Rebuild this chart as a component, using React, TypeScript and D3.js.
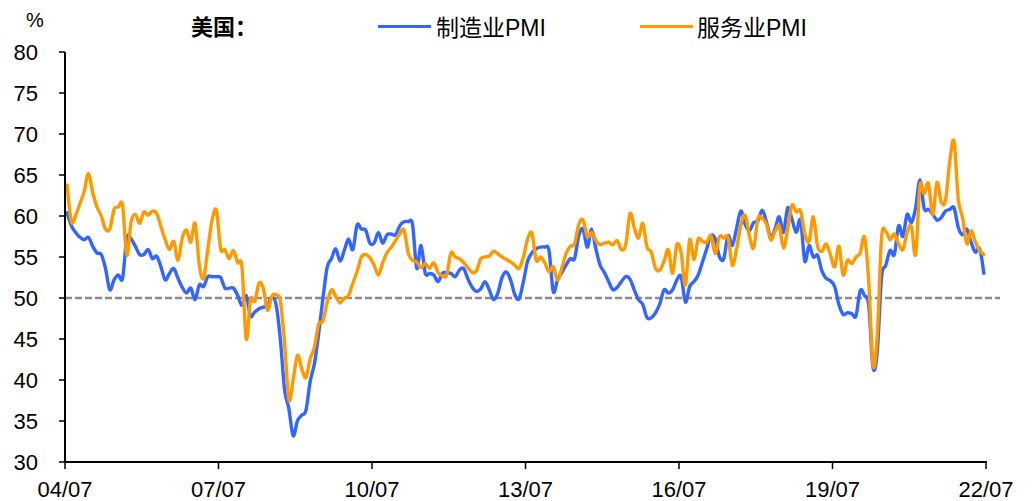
import React from 'react';
import * as d3 from 'd3';

// ISM PMI, monthly, 2004/07 – 2022/06
const mfgPMI: number[] = [
  60.4, 58.8, 58.0, 57.4, 57.1, 57.4, 56.3, 55.5, 55.3, 53.6,
  51.0, 52.2, 52.8, 52.4, 57.3, 57.2, 56.3, 55.3, 55.3, 55.9,
  54.8, 55.1, 53.8, 52.2, 53.0, 53.6, 52.4, 51.3, 50.6, 51.2,
  49.8, 51.6, 51.4, 52.6, 52.6, 52.6, 52.5, 51.2, 51.2, 51.2,
  50.3, 49.1, 50.3, 47.8, 48.3, 48.7, 48.9, 49.0, 50.1, 49.2,
  45.0, 38.8, 36.5, 33.2, 35.0, 35.7, 36.3, 39.8, 42.0, 45.7,
  50.0, 53.8, 54.8, 56.0, 54.5, 55.8, 57.2, 55.9, 58.9, 58.4,
  58.3, 56.7, 56.7, 58.0, 56.7, 57.7, 57.8, 57.7, 58.8, 59.3,
  59.3, 59.0, 53.6, 56.4, 53.0, 53.0, 52.8, 52.0, 53.0, 53.1,
  53.0, 52.6, 53.4, 53.6, 52.3, 51.3, 50.8, 51.1, 52.0, 51.0,
  49.8, 50.6, 52.5, 53.2, 52.2, 50.4, 49.9, 52.0, 54.5, 55.5,
  56.0, 56.2, 56.2, 55.8, 50.8, 52.2, 53.1, 54.0, 54.8, 54.8,
  57.6, 58.4, 56.2, 58.4, 56.0, 54.0, 53.1, 52.0, 51.0, 51.3,
  52.0, 52.6, 52.3, 51.0, 49.8, 49.2, 47.6, 47.6, 48.2, 49.3,
  51.0, 50.6, 51.0, 52.2, 52.6, 49.5, 51.4, 52.0, 52.8, 54.4,
  56.0, 57.6, 57.2, 55.0, 54.8, 57.6, 56.4, 58.5, 60.6, 59.0,
  58.2, 59.2, 59.4, 60.7, 59.3, 57.4, 58.4, 59.9, 58.0, 61.0,
  59.6, 58.0, 59.5, 54.5, 56.4, 55.0, 55.2, 53.3, 52.4, 52.1,
  51.4, 49.2, 48.0, 48.2, 48.1, 47.8, 50.9, 50.3, 49.1, 41.5,
  43.5, 52.5, 54.0, 55.8, 55.3, 58.8, 57.5, 60.2, 59.2, 61.0,
  64.4, 60.9, 60.8, 60.2, 59.5, 59.8, 60.6, 60.8, 61.0, 58.6,
  57.7, 58.4, 56.8, 55.6, 56.0, 53.0,
];

const svcPMI: number[] = [
  63.8, 59.3, 60.1, 61.5, 63.0, 65.2, 62.8, 61.1, 60.0, 58.4,
  58.4, 60.8, 61.1, 61.3, 55.2, 59.3, 60.2, 59.1, 60.5, 60.1,
  60.6, 60.3, 58.7, 57.1, 55.9, 56.9, 54.6, 57.3, 58.3, 56.8,
  59.1, 54.0, 52.4, 56.0, 59.5, 60.7, 56.0, 55.9, 54.8, 55.8,
  54.3, 53.8, 45.0, 49.8, 49.6, 51.8, 51.2, 48.5, 50.2, 50.4,
  49.6, 44.5, 37.6, 40.0, 43.0, 41.4, 40.3, 42.6, 44.0, 46.8,
  47.2, 49.5, 51.0, 50.2, 49.4, 50.0, 50.3, 51.8, 53.2, 55.0,
  55.3, 54.9, 54.0, 52.8, 54.3, 55.5, 56.2, 57.0, 57.8, 58.3,
  55.5, 54.6, 54.4, 53.7, 54.2, 53.6, 54.3, 53.1, 52.7, 52.8,
  55.5, 55.0, 54.8, 54.3, 53.7, 53.1, 53.3, 54.8, 55.0, 55.1,
  55.7, 55.4, 55.0, 54.7, 54.4, 54.0, 53.6, 55.0, 57.2, 57.9,
  54.6, 55.0, 54.3, 53.2, 53.8, 52.2, 53.6, 55.4, 56.3, 56.6,
  59.0, 59.5, 57.5, 58.0, 57.0, 56.5, 56.7, 56.8, 56.5, 57.0,
  55.9, 56.5, 60.3, 58.6, 57.3, 59.1, 56.2, 55.6, 53.6, 53.4,
  54.5, 55.9, 53.0, 56.5, 55.5, 51.6, 57.1, 54.7, 57.2, 56.9,
  56.8, 57.6, 55.4, 57.5, 57.3, 57.4, 54.0, 56.0, 58.9, 60.1,
  57.6, 56.1, 59.7, 59.7, 59.0, 57.1, 58.1, 58.8, 56.1, 58.5,
  61.3, 60.5, 60.6, 57.8, 56.9, 59.9, 56.3, 55.7, 56.6, 55.3,
  53.8, 56.3, 52.8, 54.6, 54.2, 55.0, 55.5, 57.4, 52.0, 41.8,
  45.5, 57.3, 58.1, 57.1, 57.8, 56.6, 55.9, 58.0, 58.7, 55.3,
  63.7, 62.7, 64.0, 60.1, 64.1, 61.7, 61.9, 66.7, 69.1, 62.0,
  59.8, 56.6, 58.2, 56.8, 55.8, 55.3,
];

const xTickLabels: string[] = ['04/07', '07/07', '10/07', '13/07', '16/07', '19/07', '22/07'];
const yTickValues: number[] = [30, 35, 40, 45, 50, 55, 60, 65, 70, 75, 80];
const seriesNames: string[] = ['制造业PMI', '服务业PMI'];
const referenceLevel = 50;

const FONT = "'Liberation Sans', Arial, 'Noto Sans CJK SC', sans-serif";
const BLUE = '#3366FF';
const ORANGE = '#FF9900';

export default function App() {
  const W = 1032;
  const H = 501;
  const monthsSpan = 216;
  const x = d3.scaleLinear().domain([0, monthsSpan]).range([65, 986]);
  const y = d3.scaleLinear().domain([30, 80]).range([462, 52]);

  const line = d3
    .line<number>()
    .x((_, i) => x(i + 0.5))
    .y((d) => y(d))
    .curve(d3.curveCardinal.tension(0));

  const xTickPos = xTickLabels.map((_, i) => i * 36);

  return (
    <svg
      width={W}
      height={H}
      style={{ position: 'absolute', left: 0, top: 0, display: 'block', background: '#fff' }}
      fontFamily={FONT}
    >
      {/* reference line at 50 */}
      <line
        x1={x(0)}
        x2={1000}
        y1={y(referenceLevel)}
        y2={y(referenceLevel)}
        stroke="#8c8c8c"
        strokeWidth={2.3}
        strokeDasharray="7,3"
      />

      {/* series */}
      <path d={line(mfgPMI) || ''} fill="none" stroke={BLUE} strokeWidth={3.4} strokeLinejoin="round" strokeLinecap="round" />
      <path d={line(svcPMI) || ''} fill="none" stroke={ORANGE} strokeWidth={3.4} strokeLinejoin="round" strokeLinecap="round" />

      {/* y axis */}
      <line x1={x(0)} x2={x(0)} y1={y(80)} y2={y(30)} stroke="#000" strokeWidth={2} />
      {yTickValues.map((v) => (
        <g key={v}>
          <line x1={x(0) - 6} x2={x(0)} y1={y(v)} y2={y(v)} stroke="#000" strokeWidth={1.5} />
          <text x={38} y={y(v) + 8} textAnchor="end" fontSize={22} fill="#000">
            {v}
          </text>
        </g>
      ))}

      {/* x axis */}
      <line x1={x(0)} x2={x(monthsSpan) + 1} y1={y(30)} y2={y(30)} stroke="#000" strokeWidth={2} />
      {xTickPos.map((m, i) => (
        <g key={m}>
          <line x1={x(m)} x2={x(m)} y1={y(30)} y2={y(30) + 7} stroke="#000" strokeWidth={1.5} />
          <text x={x(m)} y={497} textAnchor="middle" fontSize={22} fill="#000">
            {xTickLabels[i]}
          </text>
        </g>
      ))}

      {/* unit */}
      <text x={35} y={27} textAnchor="middle" fontSize={20} fill="#000">%</text>

      {/* title + legend */}
      <text x={191} y={35} fontSize={22} fontWeight="bold" fill="#000">美国：</text>
      <line x1={378} x2={431} y1={26.5} y2={26.5} stroke={BLUE} strokeWidth={3.2} />
      <text x={436} y={36} fontSize={23} fill="#000">{seriesNames[0]}</text>
      <line x1={640} x2={693} y1={26.5} y2={26.5} stroke={ORANGE} strokeWidth={3.2} />
      <text x={697} y={36} fontSize={23} fill="#000">{seriesNames[1]}</text>
    </svg>
  );
}
